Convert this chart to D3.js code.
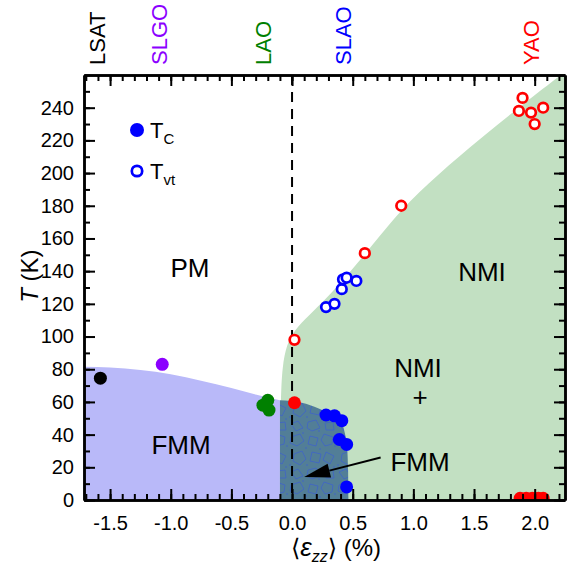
<!DOCTYPE html>
<html>
<head>
<meta charset="utf-8">
<script src="https://cdn.jsdelivr.net/npm/d3@7"></script>
<style>
  body { margin: 0; background: #fff; }
  svg { font-family: "Liberation Sans", Arial, sans-serif; }
</style>
</head>
<body>
<svg id="chart" width="568" height="570"></svg>
<script>
const width = 568;
const height = 570;
const marginTop = 75;
const marginRight = 3;
const marginBottom = 70;
const marginLeft = 84;

// substrates (top labels)
const substrates = ["LSAT", "SLGO", "LAO", "SLAO", "YAO"];
const substrateStrain = [-1.61, -1.10, -0.24, 0.42, 1.97];
const substrateColor = ["#000000", "#8b00ff", "#008000", "#0000ff", "#ff0000"];

// T_C (filled symbols)
const tcStrain = [-1.58, -1.07, -0.24, -0.20, -0.19, 0.28, 0.35, 0.41, 0.39, 0.45, 0.45, 0.02, 1.88, 1.93, 1.98, 2.03, 2.07];
const tcTemp = [74.5, 83, 58, 61, 55, 52, 51.5, 48.5, 37, 34, 8, 59.5, 1, 1, 1, 1, 1];
const tcColor = ["#000000", "#8b00ff", "#008000", "#008000", "#008000",
  "#0000ff", "#0000ff", "#0000ff", "#0000ff", "#0000ff", "#0000ff",
  "#ff0000", "#ff0000", "#ff0000", "#ff0000", "#ff0000", "#ff0000"];

// T_vt (open symbols)
const tvtStrain = [0.28, 0.35, 0.41, 0.42, 0.45, 0.53, 0.02, 0.60, 0.90, 1.90, 1.87, 1.97, 2.07, 2.00];
const tvtTemp = [118, 120, 129, 135, 136, 134, 98, 151, 180, 246, 238, 237, 240, 230];
const tvtColor = ["#0000ff", "#0000ff", "#0000ff", "#0000ff", "#0000ff", "#0000ff",
  "#ff0000", "#ff0000", "#ff0000", "#ff0000", "#ff0000", "#ff0000", "#ff0000", "#ff0000"];

// phase boundaries
const fmmStrain = [-1.715, -1.5, -1.25, -1.0, -0.75, -0.5, -0.3, -0.1];
const fmmTemp = [81.5, 81, 79.5, 77, 73, 68.5, 64.5, 61];
const mixStrain = [-0.1, 0.08, 0.22, 0.33, 0.40, 0.435, 0.455, 0.462, 0.465];
const mixTemp = [61, 59.5, 56, 52, 48, 41, 31, 18, 0];
const nmiStrain = [-0.1, -0.095, -0.08, -0.045, 0.02, 0.14, 0.28, 0.45, 0.62, 0.9, 1.2, 1.55, 1.9, 2.25];
const nmiTemp = [0, 61, 82, 95, 104, 113, 123, 137, 152, 178, 199, 221, 242, 262];

const xTicks = [-1.5, -1.0, -0.5, 0.0, 0.5, 1.0, 1.5, 2.0];
const yTicks = [0, 20, 40, 60, 80, 100, 120, 140, 160, 180, 200, 220, 240];

const svg = d3.select("#chart");

const x = d3.scaleLinear()
  .domain([-1.715, 2.25])
  .range([marginLeft, width - marginRight]);
const y = d3.scaleLinear()
  .domain([0, 260])
  .range([height - marginBottom, marginTop]);

const defs = svg.append("defs");
defs.append("clipPath").attr("id", "plot")
  .append("rect")
  .attr("x", marginLeft).attr("y", marginTop)
  .attr("width", width - marginRight - marginLeft)
  .attr("height", height - marginBottom - marginTop);

// rocky texture for the mixed region
const pat = defs.append("pattern").attr("id", "rock")
  .attr("patternUnits", "userSpaceOnUse")
  .attr("width", 48).attr("height", 48);
pat.append("rect").attr("width", 48).attr("height", 48).attr("fill", "#527e97");
const rocks = [
  "M3,5L12,2L16,9L9,14L2,11Z", "M22,4L30,6L28,14L20,12Z", "M36,2L45,5L44,12L37,14L33,8Z",
  "M6,22L14,19L18,27L12,33L5,29Z", "M24,20L33,22L31,31L22,29Z", "M38,20L46,24L42,32L35,28Z",
  "M3,40L10,37L15,44L8,47Z", "M20,38L28,36L32,44L24,47L19,44Z", "M37,39L45,38L46,46L38,46Z"
];
pat.selectAll("path").data(rocks).enter().append("path")
  .attr("d", d => d)
  .attr("fill", "none")
  .attr("stroke", "#3d62c9")
  .attr("stroke-width", 0.8);
pat.selectAll("circle").data([[18, 16], [32, 17], [2, 33], [19, 33], [46, 35], [15, 1], [31, 47], [47, 14]])
  .enter().append("circle")
  .attr("cx", d => d[0]).attr("cy", d => d[1]).attr("r", 0.8)
  .attr("fill", "#3d62c9");

const areas = svg.append("g").attr("clip-path", "url(#plot)");

// NMI (green)
const nmiPts = nmiStrain.map((s, i) => [s, nmiTemp[i]]);
const nmiLine = d3.line().x(d => x(d[0])).y(d => y(d[1])).curve(d3.curveBasis);
areas.append("path")
  .attr("d", nmiLine(nmiPts) + `L${x(2.25)},${y(0)}Z`)
  .attr("fill", "#c2e0c2");

// FMM (blue)
const fmmPts = fmmStrain.map((s, i) => [s, fmmTemp[i]]);
areas.append("path")
  .datum(fmmPts)
  .attr("d", d3.area().x(d => x(d[0])).y0(y(0)).y1(d => y(d[1])).curve(d3.curveMonotoneX))
  .attr("fill", "#b9b9f9");

// NMI + FMM (textured)
const mixPts = mixStrain.map((s, i) => [s, mixTemp[i]]);
const mixLine = d3.line().x(d => x(d[0])).y(d => y(d[1])).curve(d3.curveMonotoneX);
areas.append("path")
  .attr("d", mixLine(mixPts) + `L${x(-0.1)},${y(0)}Z`)
  .attr("fill", "url(#rock)");

// zero strain line
svg.append("line")
  .attr("x1", x(0)).attr("x2", x(0))
  .attr("y1", y(260)).attr("y2", y(0))
  .attr("stroke", "#000")
  .attr("stroke-width", 2)
  .attr("stroke-dasharray", "10,7");

// points
const pts = svg.append("g").attr("clip-path", "url(#plot)");
pts.selectAll(".tc").data(tcStrain).enter().append("circle")
  .attr("cx", d => x(d))
  .attr("cy", (d, i) => y(tcTemp[i]))
  .attr("r", 6.5)
  .attr("fill", (d, i) => tcColor[i]);
pts.selectAll(".tvt").data(tvtStrain).enter().append("circle")
  .attr("cx", d => x(d))
  .attr("cy", (d, i) => y(tvtTemp[i]))
  .attr("r", 4.8)
  .attr("fill", "#fff")
  .attr("stroke", (d, i) => tvtColor[i])
  .attr("stroke-width", 2.7);

// region labels
const labels = svg.append("g").attr("font-size", 26).attr("text-anchor", "middle");
labels.append("text").attr("x", 190).attr("y", 277).text("PM");
labels.append("text").attr("x", 482).attr("y", 281).text("NMI");
labels.append("text").attr("x", 418).attr("y", 377).text("NMI");
labels.append("text").attr("x", 420).attr("y", 406).text("+");
labels.append("text").attr("x", 420).attr("y", 471).text("FMM");
labels.append("text").attr("x", 181).attr("y", 454).text("FMM");

// arrow
const ax0 = x(0.73), ay0 = y(26), ax1 = x(0.10), ay1 = y(14);
const ang = Math.atan2(ay1 - ay0, ax1 - ax0);
const hl = 26, hw = 7;
const bx = ax1 - hl * Math.cos(ang), by = ay1 - hl * Math.sin(ang);
svg.append("line")
  .attr("x1", ax0).attr("y1", ay0).attr("x2", bx).attr("y2", by)
  .attr("stroke", "#000").attr("stroke-width", 2);
svg.append("path")
  .attr("d", `M${ax1},${ay1}L${bx + hw * Math.sin(ang)},${by - hw * Math.cos(ang)}` +
    `L${bx - hw * Math.sin(ang)},${by + hw * Math.cos(ang)}Z`)
  .attr("fill", "#000");

// legend
svg.append("circle").attr("cx", 137).attr("cy", 130).attr("r", 7).attr("fill", "#0000ff");
svg.append("circle").attr("cx", 137).attr("cy", 171).attr("r", 5.2)
  .attr("fill", "#fff").attr("stroke", "#0000ff").attr("stroke-width", 2.7);
const lg1 = svg.append("text").attr("x", 150).attr("y", 138).attr("font-size", 22);
lg1.append("tspan").text("T");
lg1.append("tspan").attr("dy", 6).attr("font-size", 15).text("C");
const lg2 = svg.append("text").attr("x", 150).attr("y", 179).attr("font-size", 22);
lg2.append("tspan").text("T");
lg2.append("tspan").attr("dy", 6).attr("font-size", 15).text("vt");

// substrate labels on top
svg.append("g").selectAll("text").data(substrates).enter().append("text")
  .attr("transform", (d, i) => `translate(${x(substrateStrain[i]) + 8},65) rotate(-90)`)
  .attr("font-size", 22)
  .attr("fill", (d, i) => substrateColor[i])
  .text(d => d);

// axes
function styleAxis(g) {
  g.select(".domain").attr("stroke-width", 2.5);
  g.selectAll(".tick line").attr("stroke-width", 2);
  g.selectAll(".tick text").attr("font-size", 20).attr("fill", "#000");
}
const xMinor = d3.range(-17, 23).map(d => d / 10);
const yMinor = d3.range(0, 261, 10);

svg.append("g")
  .attr("transform", `translate(0,${y(0)})`)
  .call(d3.axisBottom(x).tickValues(xMinor).tickSize(-6).tickFormat("").tickSizeOuter(0))
  .call(styleAxis);
svg.append("g")
  .attr("transform", `translate(0,${y(0)})`)
  .call(d3.axisBottom(x).tickValues(xTicks).tickSize(-11).tickPadding(16)
    .tickFormat(d => d.toFixed(1)).tickSizeOuter(0))
  .call(styleAxis);
svg.append("g")
  .attr("transform", `translate(0,${y(260)})`)
  .call(d3.axisTop(x).tickValues(xMinor).tickSize(-6).tickFormat("").tickSizeOuter(0))
  .call(styleAxis);
svg.append("g")
  .attr("transform", `translate(0,${y(260)})`)
  .call(d3.axisTop(x).tickValues(xTicks).tickSize(-11).tickFormat("").tickSizeOuter(0))
  .call(styleAxis);
svg.append("g")
  .attr("transform", `translate(${x(-1.715)},0)`)
  .call(d3.axisLeft(y).tickValues(yMinor).tickSize(-6).tickFormat("").tickSizeOuter(0))
  .call(styleAxis);
svg.append("g")
  .attr("transform", `translate(${x(-1.715)},0)`)
  .call(d3.axisLeft(y).tickValues(yTicks).tickSize(-11).tickPadding(10).tickSizeOuter(0))
  .call(styleAxis);
svg.append("g")
  .attr("transform", `translate(${x(2.25)},0)`)
  .call(d3.axisRight(y).tickValues(yMinor).tickSize(-6).tickFormat("").tickSizeOuter(0))
  .call(styleAxis);
svg.append("g")
  .attr("transform", `translate(${x(2.25)},0)`)
  .call(d3.axisRight(y).tickValues(yTicks).tickSize(-11).tickFormat("").tickSizeOuter(0))
  .call(styleAxis);

// axis titles
const xt = svg.append("text")
  .attr("x", 336).attr("y", 556)
  .attr("text-anchor", "middle")
  .attr("font-size", 24);
xt.append("tspan").attr("font-family", "DejaVu Sans").attr("font-size", 24).text("\u27E8");
xt.append("tspan").attr("font-style", "italic").attr("font-size", 26).text("\u03B5");
xt.append("tspan").attr("dy", 6).attr("font-size", 16).attr("font-style", "italic").text("zz");
xt.append("tspan").attr("dy", -6).attr("font-family", "DejaVu Sans").attr("font-size", 24).text("\u27E9");
xt.append("tspan").text(" (%)");

const yt = svg.append("text")
  .attr("transform", `translate(38,${y(137)}) rotate(-90)`)
  .attr("text-anchor", "middle")
  .attr("font-size", 24);
yt.append("tspan").attr("font-style", "italic").text("T");
yt.append("tspan").text(" (K)");
</script>
</body>
</html>
